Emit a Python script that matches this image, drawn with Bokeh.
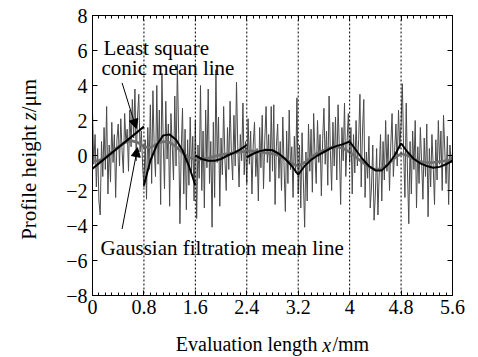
import numpy as np
from bokeh.plotting import figure
from bokeh.models import (LinearAxis, FixedTicker, Span, Label, Arrow, NormalHead, Range1d,
                          CustomLabelingPolicy)
from bokeh.embed import file_html
from bokeh.resources import INLINE

# ---------------- data ----------------
x_ticks = [0, 0.8, 1.6, 2.4, 3.2, 4.0, 4.8, 5.6]
x_tick_labels = ["0", "0.8", "1.6", "2.4", "3.2", "4", "4.8", "5.6"]
x_minor = [round(0.1 * i, 1) for i in range(57)]
y_ticks = [-8, -6, -4, -2, 0, 2, 4, 6, 8]
y_tick_labels = ["\u22128", "\u22126", "\u22124", "\u22122", "0", "2", "4", "6", "8"]
sections = [0.8, 1.6, 2.4, 3.2, 4.0, 4.8]

# measured roughness profile (0.02 mm sampling)
profile = [
    2.5, -0.5, 1.2, -1.8, 0.4, -2.6, -3.4, 0.8, -1.2, 1.6,
    -0.8, 2.8, -2.2, 0.6, -1.5, 1.9, -0.4, 1.2, -2.4, 0.9,
    1.8, -0.6, 2.1, 0.3, -1.0, 2.4, 0.7, 1.5, -0.9, 2.6,
    0.5, 3.2, 1.0, 3.8, -0.3, 2.2, 3.5, 0.2, 1.4, -0.6,
    -1.8, 0.9, -2.5, 1.6, -0.8, 2.9, -1.6, 3.7, 0.4, -1.2,
    4.0, -0.5, 2.6, -2.8, 4.7, 0.8, -1.9, 3.1, -0.2, 1.8,
    -2.9, 2.4, 0.6, -1.4, 3.4, -0.6, 5.2, 1.2, -3.9, 0.3,
    2.7, -2.2, 1.5, -3.1, 0.9, -1.7, 2.2, -0.9, 1.1, -2.6,
    2.0, -3.6, 0.6, -1.3, 4.0, -2.0, 1.4, -3.0, 2.6, -0.7,
    3.8, -1.6, 0.8, -4.1, 1.9, -2.4, 4.9, -0.4, 2.2, -2.9,
    1.0, -1.1, 2.8, -0.2, -2.0, 1.6, -0.8, 3.1, 0.2, -1.4,
    2.3, -0.6, 4.2, 0.5, -1.8, 1.2, -0.3, 3.0, -1.1, 0.8,
    -1.6, 2.1, -0.5, 1.4, -2.2, 0.6, 1.9, -1.2, 0.4, -2.6,
    1.6, -0.7, 2.3, -1.9, 0.9, 2.8, -0.4, 1.2, -1.5, 2.8,
    -0.9, 2.9, -2.8, 0.5, 1.8, -1.3, 0.8, -2.0, 2.2, -0.6,
    -3.2, 1.4, -1.6, 2.6, -0.8, 0.5, -2.4, 1.1, -1.0, 3.3,
    -2.2, 0.6, -3.0, 1.3, -1.4, -4.1, 0.2, -2.6, 1.8, -0.9,
    1.5, -2.1, 2.4, 0.1, -1.6, 2.0, -0.4, 1.2, -2.3, 0.9,
    2.7, -0.5, 1.4, -1.7, 3.4, 0.3, -2.0, 1.9, -0.6, 2.2,
    -1.4, 2.9, 0.4, -2.8, 1.6, -0.3, 3.0, -1.2, 0.8, 2.4,
    -0.4, 1.6, -2.2, 1.2, -1.0, 2.0, -0.6, 0.9, 3.5, -1.8,
    1.4, 3.2, -2.4, 0.2, -1.3, 1.1, -3.0, -1.8, 0.6, -3.7,
    -2.2, 0.4, -3.4, -1.0, 1.2, -2.6, 0.8, -1.4, 2.0, -0.9,
    1.2, -2.0, 0.6, 2.4, -1.2, 0.3, 1.8, -0.6, 2.6, 0.4,
    1.8, 4.1, 0.2, -2.4, 3.0, -1.0, -3.9, 0.8, -2.2, 1.4,
    -0.8, 2.0, -3.0, 0.5, -1.6, 1.6, -0.4, -2.5, 1.0, -1.2,
    1.8, -3.5, 0.4, -1.8, 1.2, -0.6, -2.8, 0.9, -1.4, 2.0,
    -0.5, 1.4, -2.0, 2.3, 0.3, -1.6, 1.1, -2.8, 0.6, -0.4,
    0.2,
]

# Gaussian filtration mean line (0.1 mm sampling)
gauss = [
    -0.3, -0.3, -0.1, 0.2, 0.5, 0.75, 0.85, 0.75, 0.5, 0.45,
    0.65, 0.8, 0.75, 0.5, 0.15, -0.1, -0.25, -0.2, -0.15, -0.05,
    0.05, 0.1, 0.15, 0.2, 0.25, 0.25, 0.2, 0.15, 0.1, 0.0,
    -0.2, -0.45, -0.6, -0.4, -0.1, 0.15, 0.3, 0.45, 0.5, 0.4,
    0.2, -0.1, -0.4, -0.65, -0.8, -0.75, -0.5, -0.15, 0.1, 0.0,
    -0.2, -0.35, -0.4, -0.4, -0.35, -0.3, -0.25,
]

# least square conic mean line, one piece per sampling length (0.1 mm sampling)
conic_1 = [-0.75, -0.45, -0.15, 0.15, 0.45, 0.75, 1.05, 1.35, 1.65]
conic_2 = [-1.7, -0.3, 0.6, 1.15, 1.2, 0.9, 0.3, -0.6, -1.7]
conic_3 = [0.0, -0.2, -0.3, -0.3, -0.2, 0.0, 0.15, 0.35, 0.6]
conic_4 = [-0.1, 0.1, 0.25, 0.33, 0.3, 0.1, -0.2, -0.6, -1.1]
conic_5 = [-1.1, -0.6, -0.25, 0.0, 0.2, 0.4, 0.55, 0.65, 0.8]
conic_6 = [0.8, 0.3, -0.2, -0.6, -0.85, -0.85, -0.5, 0.0, 0.7]
conic_7 = [0.7, 0.2, -0.2, -0.45, -0.6, -0.7, -0.65, -0.5, -0.3]
conic_pieces = [conic_1, conic_2, conic_3, conic_4, conic_5, conic_6, conic_7]
section_starts = [0.0, 0.8, 1.6, 2.4, 3.2, 4.0, 4.8]

FONT = "Liberation Serif"
FS = "21px"
FS_AX = "20px"
NB = "\u00a0"

W, H = 478, 357
p = figure(width=W, height=H, x_range=Range1d(0, 5.6), y_range=Range1d(-8, 8),
           output_backend="svg", toolbar_location=None,
           min_border_left=92, min_border_right=W - 452, min_border_top=15,
           min_border_bottom=H - 297)
p.xgrid.visible = False
p.ygrid.visible = False
p.outline_line_color = "black"
p.background_fill_color = "white"
p.border_fill_color = "white"

xt = FixedTicker(ticks=x_ticks, minor_ticks=x_minor)
yt = FixedTicker(ticks=y_ticks, minor_ticks=[])

for ax in p.xaxis:
    ax.ticker = xt
    ax.major_label_overrides = {t: l for t, l in zip(x_ticks, x_tick_labels)}
    ax.major_label_standoff = 4
    ax.axis_label = "Evaluation length" + NB * 3 + "/mm"
    ax.axis_label_standoff = 16
for ax in p.yaxis:
    ax.ticker = yt
    ax.major_label_overrides = {t: l for t, l in zip(y_ticks, y_tick_labels)}
    ax.major_label_standoff = 5

for ax in list(p.xaxis) + list(p.yaxis):
    ax.major_tick_in = 5
    ax.major_tick_out = 0
    ax.minor_tick_in = 3
    ax.minor_tick_out = 0
    ax.axis_line_color = "black"
    ax.major_tick_line_color = "black"
    ax.minor_tick_line_color = "black"
    ax.major_label_text_font = FONT
    ax.major_label_text_font_size = FS_AX
    ax.major_label_text_color = "black"
    ax.axis_label_text_font = FONT
    ax.axis_label_text_font_size = FS_AX
    ax.axis_label_text_font_style = "normal"
    ax.axis_label_text_color = "black"

no_labels = CustomLabelingPolicy(code="""
try {
  for (const i of Array.from(indices)) { indices.unset(i) }
} catch (e) {}
return indices
""")

top = LinearAxis(ticker=xt, major_label_text_font_size="0px", major_label_standoff=0,
                 major_label_policy=no_labels,
                 major_tick_in=5, major_tick_out=0, minor_tick_in=3, minor_tick_out=0)
right = LinearAxis(ticker=yt, major_label_text_font_size="0px", major_label_standoff=0,
                   major_label_policy=no_labels,
                   major_tick_in=5, major_tick_out=0, minor_tick_in=0, minor_tick_out=0)
p.add_layout(top, "above")
p.add_layout(right, "right")

for s in sections:
    p.add_layout(Span(location=s, dimension="height", line_color="black",
                      line_dash="2 2", line_width=1))

px = np.linspace(0, 5.6, len(profile))
p.line(px, profile, line_color="#4a4a4a", line_width=1)

gx = np.linspace(0, 5.6, len(gauss))
p.line(gx, gauss, line_color="#707070", line_width=2.6)

for start, piece in zip(section_starts, conic_pieces):
    cx = np.linspace(start, start + 0.8, len(piece))
    p.line(cx, piece, line_color="black", line_width=2)

# annotations
p.add_layout(Arrow(x_start=0.46, y_start=4.15, x_end=0.68, y_end=1.55, line_width=1,
                   end=NormalHead(size=9, fill_color="black", line_color="black")))
p.add_layout(Arrow(x_start=0.46, y_start=-4.2, x_end=0.70, y_end=0.45, line_width=1,
                   end=NormalHead(size=9, fill_color="black", line_color="black")))

def lab(x, y, text, style="normal", angle=0, side=None, size=FS):
    l = Label(x=x, y=y, text=text, text_font=FONT, text_font_size=size,
              text_font_style=style, text_color="black",
              text_baseline="alphabetic", text_align="left", angle=angle)
    if side is None:
        p.add_layout(l)
    else:
        p.add_layout(l, side)

lab(0.17, 6.14, "Least square")
lab(0.14, 5.0, "conic mean line")
lab(0.125, -5.3, "Gaussian filtration mean line")

# italic variable of the x-axis title
lab(3.575, -10.8, "x", style="italic", side="left", size=FS_AX)

# y-axis title, drawn in three pieces (reading upwards)
yb = -4.82
xb = -0.9955
lab(xb, yb, "Profile height ", angle=np.pi / 2, side="left")
lab(xb, yb + 120.2 / 17.625, "z", style="italic", angle=np.pi / 2, side="above")
lab(xb, yb + 128.4 / 17.625, "/\u03bcm", angle=np.pi / 2, side="right")

open("out.html", "w").write(file_html(p, INLINE))
